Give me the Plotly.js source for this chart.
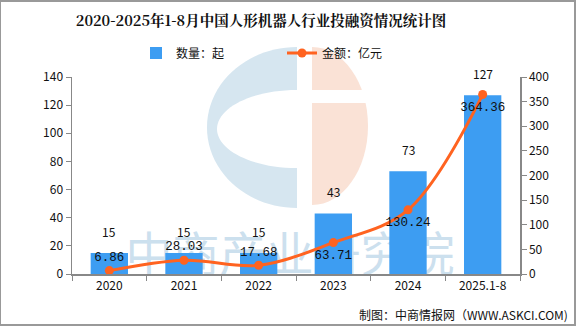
<!DOCTYPE html>
<html><head><meta charset="utf-8">
<script src="https://cdn.plot.ly/plotly-3.0.1.min.js"></script>
<style>html,body{margin:0;padding:0;background:#fff}#chart{width:576px;height:326px}</style>
</head><body><div id="chart"></div>
<script>
const categories = ["2020","2021","2022","2023","2024","2025.1-8"];
const counts = [15,15,15,43,73,127];
const amounts = [6.86,28.03,17.68,63.71,130.24,364.36];
const amountLabelPos = ["top center","top center","top center","bottom center","bottom center","bottom center"];
const font = "SimSun, 'Noto Sans CJK SC', sans-serif";
const monoFont = "'Liberation Mono', 'DejaVu Sans Mono', monospace";

// plot-area geometry (pixels) used only for decorative watermark shapes
const L = 72, R = 520, T = 77, B = 274;
const px = x => ((x - L) / (R - L)).toFixed(4);
const py = y => ((B - y) / (B - T)).toFixed(4);
const K = 0.5523;
function halfEllipse(cx, cy, rx, ry, dir) { // dir -1 left half, +1 right half
  const s = dir;
  return `M${px(cx)},${py(cy-ry)} C${px(cx+s*K*rx)},${py(cy-ry)} ${px(cx+s*rx)},${py(cy-K*ry)} ${px(cx+s*rx)},${py(cy)} ` +
         `C${px(cx+s*rx)},${py(cy+K*ry)} ${px(cx+s*K*rx)},${py(cy+ry)} ${px(cx)},${py(cy+ry)} Z`;
}

const traces = [
  {type:"bar", name:"数量：起", x:categories, y:counts,
   marker:{color:"#3d9df2"}, yaxis:"y"},
  {type:"scatter", mode:"lines+markers+text", name:"金额：亿元", x:categories, y:amounts,
   text:amounts.map(v=>v.toFixed(2)), textposition:amountLabelPos, cliponaxis:false,
   line:{color:"#ff6320",width:3,shape:"spline"}, marker:{color:"#ff6320",size:9},
   textfont:{size:12.5,color:"#111",family:monoFont}, yaxis:"y2"}
];

// category index positions (category axis) for the count labels above the bars
const barLabels = categories.map((c,i)=>({
  x:i, y:counts[i], xref:"x", yref:"y", text:String(counts[i]), showarrow:false,
  yanchor:"bottom", yshift:11, font:{size:12,color:"#111",family:font}
}));

const layout = {
  width:576, height:326,
  margin:{l:72,r:56,t:77,b:52},
  paper_bgcolor:"#fff", plot_bgcolor:"rgba(0,0,0,0)",
  font:{family:font,size:12,color:"#111"},
  title:{text:"<b>2020-2025年1-8月中国人形机器人行业投融资情况统计图</b>", xref:"paper", x:(261-72)/448, xanchor:"center",
         yref:"container", y:1-21/326, yanchor:"middle",
         font:{size:14.5,color:"#111",family:"'Noto Serif CJK SC', 'Noto Sans CJK SC', serif"}},
  bargap:0.5,
  showlegend:true,
  legend:{orientation:"h", x:(136-72)/448, xanchor:"left", y:(274-53)/197, yanchor:"middle",
          font:{size:12,family:font}, entrywidth:101, entrywidthmode:"pixels", traceorder:"normal",
          bgcolor:"rgba(0,0,0,0)"},
  xaxis:{type:"category", showline:true, linecolor:"#888", linewidth:1.5, ticks:"outside", tickson:"boundaries",
         ticklen:5, tickcolor:"#888", showgrid:false, tickfont:{size:12,family:font}, zeroline:false},
  yaxis:{range:[0,140], dtick:20, showline:true, linecolor:"#888", linewidth:1.5, ticks:"outside", ticklen:5,
         tickcolor:"#888", showgrid:false, zeroline:false, tickfont:{size:12,family:font}},
  yaxis2:{range:[0,400], dtick:50, overlaying:"y", side:"right", showline:true, linecolor:"#888", linewidth:1.5,
          ticks:"outside", ticklen:5, tickcolor:"#888", showgrid:false, zeroline:false, tickfont:{size:12,family:font}},
  shapes:[
    {type:"path", xref:"paper", yref:"paper", path:halfEllipse(297,127.5,90,80.5,-1),
     line:{width:0}, fillcolor:"rgb(214,230,240)", layer:"below"},
    {type:"path", xref:"paper", yref:"paper", path:halfEllipse(297,129,80,39,-1),
     line:{width:0}, fillcolor:"#fff", layer:"below"},
    {type:"path", xref:"paper", yref:"paper", path:halfEllipse(312,126,56,79,1),
     line:{width:0}, fillcolor:"rgb(250,226,214)", layer:"below"},
    {type:"rect", xref:"paper", yref:"paper", x0:px(311), x1:px(372), y0:py(103), y1:py(90),
     line:{width:0}, fillcolor:"#fff", layer:"below"},
    {type:"rect", xref:"paper", yref:"paper", x0:px(110), x1:px(470), y0:py(284), y1:py(232),
     line:{width:0}, fillcolor:"rgba(0,0,0,0)", layer:"below",
     label:{text:"中商产业研究院", textposition:"middle center",
            font:{size:47,color:"rgb(204,224,238)",family:"'Noto Sans CJK SC', sans-serif"}}},
    {type:"rect", xref:"paper", yref:"paper", x0:-72/448, x1:1+55/448, y0:-51/197, y1:1+76/197,
     line:{color:"#999",width:2}, fillcolor:"rgba(0,0,0,0)", layer:"above"}
  ],
  annotations:[
    ...barLabels,
    {text:"制图：中商情报网（WWW.ASKCI.COM)", xref:"paper", yref:"paper", x:(570-72)/448, y:(274-314)/197,
     xanchor:"right", yanchor:"middle", showarrow:false, font:{size:12,color:"#111",family:font}}
  ]
};
Plotly.newPlot("chart", traces, layout, {displayModeBar:false, staticPlot:true});
</script></body></html>
